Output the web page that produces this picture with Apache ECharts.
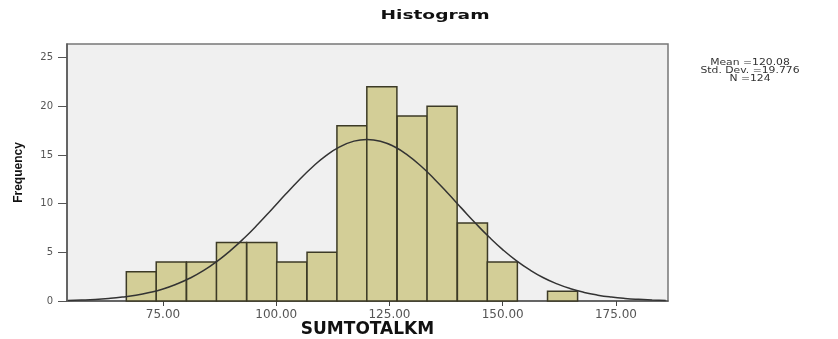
<!DOCTYPE html>
<html>
<head>
<meta charset="utf-8">
<script src="https://cdn.jsdelivr.net/npm/echarts@6/dist/echarts.min.js"></script>
<style>
  html, body { margin: 0; padding: 0; background: #fff; }
  #main { width: 838px; height: 339px; }
</style>
</head>
<body>
<div id="main"></div>
<script>
// histogram bins (left edge of each bin), bin width and counts
const binStarts = [66.9, 73.5, 80.2, 86.8, 93.5, 100.1, 106.8, 113.4, 120.0, 126.7, 133.3, 140.0, 146.6, 153.2, 159.9];
const binWidth = 6.64;
const counts = [3, 4, 4, 6, 6, 4, 5, 18, 22, 19, 20, 8, 4, 0, 1];

// normal curve
const curveX = [54, 57, 60, 63, 66, 69, 72, 75, 78, 81, 84, 87, 90, 93, 96, 99, 102, 105, 108, 111, 114, 117, 120,
    123, 126, 129, 132, 135, 138, 141, 144, 147, 150, 153, 156, 159, 162, 165, 168, 171, 174, 177, 180, 183, 186];
const curveY = [0.06, 0.10, 0.16, 0.26, 0.40, 0.59, 0.87, 1.24, 1.74, 2.36, 3.14, 4.10, 5.22, 6.50, 7.91, 9.41, 10.93, 12.41, 13.77, 14.94, 15.83, 16.40, 16.6,
    16.42, 15.87, 14.99, 13.84, 12.49, 11.01, 9.49, 7.99, 6.57, 5.28, 4.15, 3.19, 2.39, 1.76, 1.26, 0.88, 0.60, 0.40, 0.26, 0.17, 0.11, 0.06];

const xTicks = [75, 100, 125, 150, 175];
const yTicks = [0, 5, 10, 15, 20, 25];
const statLines = ['Mean =120.08', 'Std. Dev. =19.776', 'N =124'];

const chart = echarts.init(document.getElementById('main'));

const histData = binStarts.map((s, i) => [s, s + binWidth, counts[i]]);
const curveData = curveX.map((x, i) => [x, curveY[i]]);

const option = {
    backgroundColor: '#fff',
    animation: false,
    graphic: [
        {
            type: 'text',
            x: 435,
            y: 16,
            scaleX: 1.55,
            style: {
                text: 'Histogram',
                fontFamily: 'DejaVu Sans',
                fontWeight: 'bold',
                fontSize: 12,
                fill: '#111',
                align: 'center',
                verticalAlign: 'middle'
            }
        },
        {
            type: 'text',
            x: 750,
            y: 71,
            scaleX: 1.2,
            style: {
                text: statLines.join('\n'),
                fontFamily: 'DejaVu Sans',
                fontSize: 9,
                lineHeight: 8,
                fill: '#333',
                align: 'center',
                verticalAlign: 'middle'
            }
        }
    ],
    grid: {
        left: 67,
        right: 170,
        top: 44,
        bottom: 38,
        outerBoundsMode: 'none',
        show: true,
        backgroundColor: '#f0f0f0',
        borderColor: '#777',
        borderWidth: 1.5
    },
    xAxis: {
        type: 'value',
        min: 53.8,
        max: 186.5,
        name: 'SUMTOTALKM',
        nameLocation: 'middle',
        nameGap: 20,
        nameMoveOverlap: false,
        nameTextStyle: {
            fontFamily: 'DejaVu Sans',
            fontWeight: 'bold',
            fontSize: 17,
            color: '#111'
        },
        splitLine: { show: false },
        axisLine: { lineStyle: { color: '#555', width: 1.5 } },
        axisTick: {
            customValues: xTicks,
            length: 5,
            lineStyle: { color: '#444' }
        },
        axisLabel: {
            customValues: xTicks,
            formatter: v => v.toFixed(2),
            fontFamily: 'DejaVu Sans',
            fontSize: 12,
            color: '#555',
            margin: 8
        }
    },
    yAxis: {
        type: 'value',
        min: 0,
        max: 26.4,
        name: 'Frequency',
        nameLocation: 'middle',
        nameGap: 42,
        nameMoveOverlap: false,
        nameTextStyle: {
            fontFamily: 'Liberation Sans',
            fontWeight: 'bold',
            fontSize: 12,
            color: '#111'
        },
        splitLine: { show: false },
        axisLine: { show: true, lineStyle: { color: '#555', width: 1.5 } },
        axisTick: {
            show: true,
            customValues: yTicks,
            length: 9,
            lineStyle: { color: '#555' }
        },
        axisLabel: {
            customValues: yTicks,
            fontFamily: 'DejaVu Sans',
            fontSize: 10,
            color: '#555',
            margin: 14
        }
    },
    series: [
        {
            type: 'custom',
            data: histData,
            encode: { x: [0, 1], y: 2 },
            renderItem: function (params, api) {
                const c = api.value(2);
                if (!c) return null;
                const p0 = api.coord([api.value(0), c]);
                const p1 = api.coord([api.value(1), 0]);
                return {
                    type: 'rect',
                    shape: { x: p0[0], y: p0[1], width: p1[0] - p0[0], height: p1[1] - p0[1] },
                    style: { fill: '#d3ce97', stroke: '#3c3a26', lineWidth: 1.5 }
                };
            },
            z: 2
        },
        {
            type: 'line',
            data: curveData,
            smooth: true,
            showSymbol: false,
            lineStyle: { color: '#333', width: 1.5 },
            z: 3
        }
    ]
};

chart.setOption(option);
</script>
</body>
</html>
